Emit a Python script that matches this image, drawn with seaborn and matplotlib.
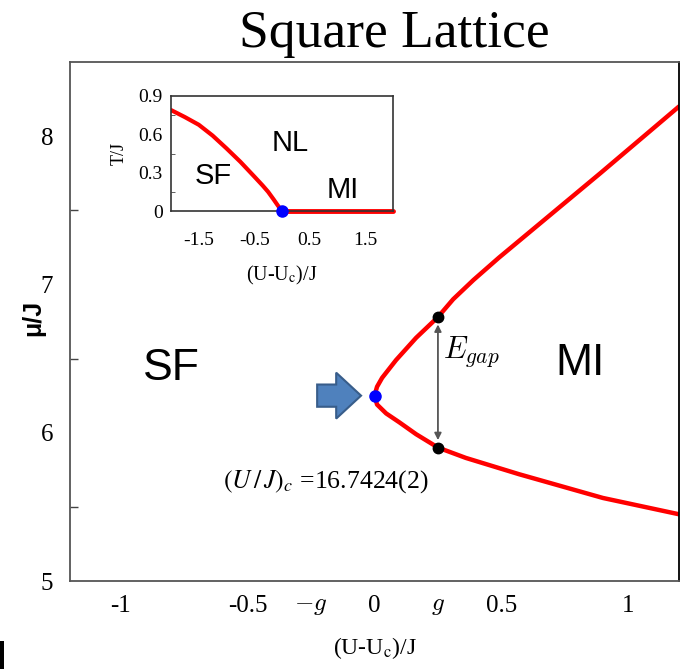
import numpy as np
import pandas as pd
import matplotlib
matplotlib.use("Agg")
import matplotlib.pyplot as plt
import seaborn as sns
from matplotlib.patches import FancyArrow, Rectangle
from matplotlib.ticker import FixedLocator

# ---------------- data ----------------
g = 0.25
upper_x = [0.0, 0.01, 0.03, 0.085, 0.164, 0.25, 0.31, 0.39, 0.49, 0.89, 1.2]
upper_mu = [6.25, 6.31, 6.37, 6.49, 6.64, 6.78, 6.90, 7.03, 7.18, 7.75, 8.2]
lower_x = [0.0, 0.01, 0.046, 0.098, 0.164, 0.25, 0.36, 0.57, 0.9, 1.2]
lower_mu = [6.25, 6.19, 6.13, 6.07, 5.99, 5.90, 5.83, 5.72, 5.56, 5.45]
crit_point = (0.0, 6.25)
gap_points_x = [g, g]
gap_points_mu = [6.78, 5.90]

inset_sf_x = [-2.0, -1.75, -1.5, -1.25, -1.0, -0.75, -0.5, -0.35, -0.25, -0.15, -0.07, 0.0]
inset_sf_T = [0.79, 0.735, 0.675, 0.59, 0.49, 0.385, 0.27, 0.20, 0.15, 0.09, 0.04, 0.0]
inset_mi_x = [0.0, 2.0]
inset_mi_T = [0.0, 0.0]

main_xticks = [-1, -0.5, -g, 0, g, 0.5, 1]
main_xticklabels = ["-1", "-0.5", r"$-g$", "0", r"$g$", "0.5", "1"]
main_yticks = [5, 6, 7, 8]
inset_xticks = [-1.5, -1, -0.5, 0, 0.5, 1, 1.5]
inset_xticklabels = ["-1.5", "", "-0.5", "", "0.5", "", "1.5"]
inset_yticks = [0, 0.3, 0.6, 0.9]
inset_yticklabels = ["0", "0.3", "0.6", "0.9"]

# ---------------- style ----------------
sns.set_style("white")
plt.rcParams["font.family"] = ["Liberation Serif", "DejaVu Serif"]
plt.rcParams["mathtext.fontset"] = "cm"
for k in ["text.color", "axes.labelcolor", "xtick.labelcolor", "ytick.labelcolor"]:
    plt.rcParams[k] = "black"
SANS = ["Liberation Sans", "DejaVu Sans"]

fig = plt.figure(figsize=(6.83, 6.69), dpi=100)
W, H = 683, 669
ax = fig.add_axes([70 / W, (H - 581) / H, 609 / W, 519 / H])

df_up = pd.DataFrame({"x": upper_x, "mu": upper_mu})
df_lo = pd.DataFrame({"x": lower_x, "mu": lower_mu})
sns.lineplot(data=df_up, x="x", y="mu", ax=ax, color="#ff0000", lw=3.2,
             estimator=None, sort=False)
sns.lineplot(data=df_lo, x="x", y="mu", ax=ax, color="#ff0000", lw=3.2,
             estimator=None, sort=False)
ax.plot(gap_points_x, gap_points_mu, "o", color="black", ms=7.5, zorder=5)
ax.plot([crit_point[0]], [crit_point[1]], "o", color="#0000ff", ms=8, zorder=5)

ax.annotate("", xy=(g, gap_points_mu[0] - 0.05), xytext=(g, gap_points_mu[1] + 0.05),
            arrowprops=dict(arrowstyle="<|-|>", color="#555555", lw=1.3,
                            mutation_scale=10, shrinkA=0, shrinkB=0), zorder=4)

ax.set_xlim(-1.2, 1.2)
ax.set_ylim(5, 8.5)
ax.set_xticks(main_xticks)
ax.set_xticklabels(main_xticklabels)
ax.set_yticks(main_yticks)
ax.yaxis.set_minor_locator(FixedLocator([5.5, 6.5, 7.5]))
ax.tick_params(axis="both", which="both", direction="in", labelsize=18,
               color="#444444", width=1, labelcolor="black")
ax.tick_params(axis="x", which="major", length=8, pad=10)
ax.tick_params(axis="y", which="major", length=7, pad=12)
ax.tick_params(axis="y", which="minor", length=6, left=True)
for lab in ax.get_xticklabels():
    lab.set_math_fontfamily("cm")
for side in ["left", "top", "bottom"]:
    ax.spines[side].set_color("#555555")
    ax.spines[side].set_linewidth(1.3)
ax.spines["right"].set_color("black")
ax.spines["right"].set_linewidth(1.3)

ax.set_xlabel(r"(U-U$_\mathrm{c}$)/J", fontsize=17, labelpad=13, color="black")
ax.xaxis.label.set_math_fontfamily("stix")
ax.set_ylabel("")
fig.text(33 / W, 1 - 318 / H, "μ/J", rotation=90, ha="center", va="center",
         fontsize=18, fontweight="bold", family=SANS, color="black")

# region labels
ax.text(-0.80, 6.43, "SF", ha="center", va="center", fontsize=32, family=SANS)
ax.text(0.81, 6.47, "MI", ha="center", va="center", fontsize=32, family=SANS)
ax.text(0.27, 6.55, r"$E_{gap}$", ha="left", va="center", fontsize=22,
        math_fontfamily="cm")
t = ax.text(-0.19, 5.67, r"$(U\,/\,J)_c$ =16.7424(2)", ha="center", va="center",
            fontsize=18.5)
t.set_math_fontfamily("stix")

# block arrow
ax.add_patch(FancyArrow(-0.226, 6.25, 0.173 - 0.098, 0.0, width=0.15,
                        head_width=0.31, head_length=0.098,
                        length_includes_head=False,
                        facecolor="#4f81bd", edgecolor="#385d8a", lw=1.5,
                        zorder=3))

# title
fig.text(394 / W, 1 - 47 / H, "Square Lattice", ha="center", va="baseline",
         fontsize=38.5, color="black")

# ---------------- inset ----------------
axi = fig.add_axes([171 / W, (H - 211) / H, 222 / W, 115 / H])
df_isf = pd.DataFrame({"x": inset_sf_x, "T": inset_sf_T})
df_imi = pd.DataFrame({"x": inset_mi_x, "T": inset_mi_T})
sns.lineplot(data=df_isf, x="x", y="T", ax=axi, color="#ff0000", lw=3,
             estimator=None, sort=False)
sns.lineplot(data=df_imi, x="x", y="T", ax=axi, color="#ff0000", lw=3.5,
             estimator=None, sort=False, clip_on=False)
axi.plot([0], [0], "o", color="#0000ff", ms=8, clip_on=False, zorder=6)
axi.set_xlim(-2, 2)
axi.set_ylim(0, 0.9)
axi.set_xticks(inset_xticks)
axi.set_xticklabels(inset_xticklabels)
axi.set_yticks(inset_yticks)
axi.set_yticklabels(inset_yticklabels)
axi.yaxis.set_minor_locator(FixedLocator([0.15, 0.45, 0.75]))
axi.tick_params(axis="both", which="both", direction="in", labelsize=14,
                color="#444444", length=4, pad=6, labelcolor="black")
axi.tick_params(axis="y", which="minor", left=True, length=3)
axi.tick_params(axis="x", pad=15)
for side in axi.spines:
    axi.spines[side].set_color("#333333")
    axi.spines[side].set_linewidth(1.2)
axi.set_xlabel(r"(U-U$_\mathrm{c}$)/J", fontsize=14.5, labelpad=11, color="black")
axi.xaxis.label.set_math_fontfamily("stix")
axi.set_ylabel("T/J", fontsize=13, labelpad=8, color="black")
axi.text(0.14, 0.53, "NL", ha="center", va="center", fontsize=21, family=SANS)
axi.text(-1.24, 0.27, "SF", ha="center", va="center", fontsize=21, family=SANS)
axi.text(1.1, 0.165, "MI", ha="center", va="center", fontsize=21, family=SANS)

# cropped bar at the bottom-left corner
fig.patches.append(Rectangle((0, 0), 4 / W, 28 / H, transform=fig.transFigure,
                             facecolor="black", edgecolor="none"))

fig.savefig("out.png", dpi=100)
